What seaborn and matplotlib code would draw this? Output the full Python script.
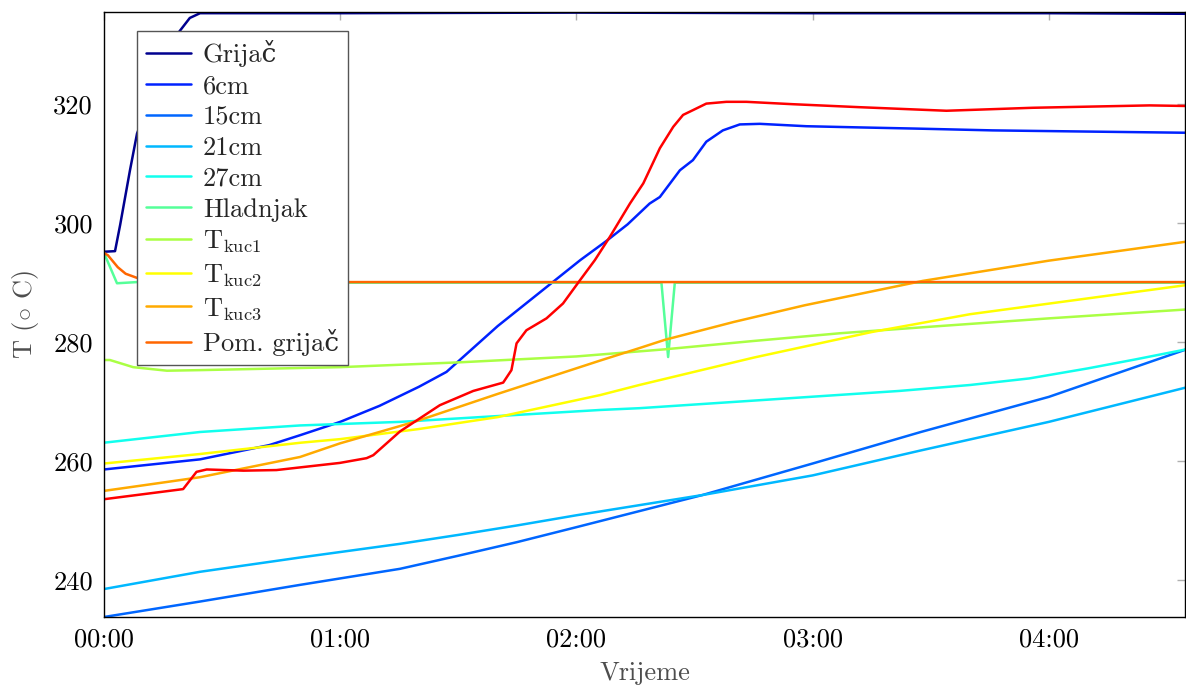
import numpy as np
import pandas as pd
import matplotlib
matplotlib.use('Agg')
import matplotlib.pyplot as plt
from matplotlib.ticker import FuncFormatter
import seaborn as sns

# ============================================================
# Podaci (vrijeme u minutama, temperatura u °C)
# ============================================================
t_grijac = [0, 2.8, 4.1, 6.6, 8.4, 13.7, 19.0, 21.8, 24.4, 60, 120, 180, 240, 275]
T_grijac = [295.2, 295.3, 299.7, 308.9, 315.1, 324.0, 332.1, 334.5, 335.3, 335.3, 335.4, 335.3, 335.3, 335.2]

t_6cm = [0, 24.4, 42, 50, 60, 70, 80, 87, 100, 114, 121, 127.6, 133, 138.6, 141.2, 146.3, 149.6,
         153, 157.2, 161.5, 166.6, 178.4, 191.9, 206.3, 225.7, 250, 275]
T_6cm = [258.6, 260.3, 262.7, 264.4, 266.6, 269.3, 272.5, 275.0, 282.7, 290.1, 293.8, 297.0, 299.8,
         303.3, 304.4, 308.9, 310.6, 313.7, 315.6, 316.6, 316.7, 316.3, 316.1, 315.9, 315.6, 315.4, 315.2]

t_15cm = [0, 24.4, 49.8, 75.2, 90, 105, 120, 152, 180, 207.5, 240, 275]
T_15cm = [233.8, 236.4, 239.2, 241.9, 244.1, 246.4, 248.9, 254.3, 259.6, 264.9, 270.8, 278.8]

t_21cm = [0, 24.4, 49.8, 75.2, 90, 105, 120, 152, 180, 207.5, 240, 275]
T_21cm = [238.5, 241.4, 243.8, 246.1, 247.6, 249.2, 250.9, 254.3, 257.6, 261.8, 266.6, 272.4]

t_27cm = [0, 24.4, 49.8, 75.2, 126, 136, 202, 220, 235, 250, 262, 275]
T_27cm = [263.1, 264.9, 266.0, 266.6, 268.6, 268.9, 271.8, 272.8, 273.9, 275.6, 277.1, 278.8]

t_hladnjak = [0, 3.3, 8.4, 60, 141.6, 143.3, 145.0, 275]
T_hladnjak = [295.0, 289.9, 290.1, 290.0, 290.0, 277.5, 290.0, 290.0]

t_kuc1 = [0, 1.5, 7.4, 16, 24.4, 60, 90, 120, 142.5, 165, 187, 210, 240, 275]
T_kuc1 = [277.0, 277.0, 275.8, 275.2, 275.3, 275.8, 276.6, 277.6, 278.8, 280.2, 281.5, 282.6, 284.0, 285.5]

t_kuc2 = [0, 24.4, 50, 60, 80, 100, 126, 136, 165, 195, 220, 247, 275]
T_kuc2 = [259.6, 261.2, 263.1, 263.7, 265.4, 267.4, 271.1, 272.8, 277.4, 281.7, 284.7, 287.1, 289.6]

t_kuc3 = [0, 16, 24.4, 49.8, 60, 75.2, 80.2, 100, 126, 136, 142.5, 160, 178, 208, 240, 275]
T_kuc3 = [255.0, 256.5, 257.3, 260.7, 263.0, 265.9, 266.9, 271.3, 276.9, 279.0, 280.4, 283.4, 286.2,
          290.3, 293.7, 296.9]

t_pom = [0, 1, 3.5, 5.5, 8.4, 15, 60, 275]
T_pom = [295.0, 294.6, 292.6, 291.5, 290.8, 290.3, 290.1, 290.1]

t_crvena = [0, 20.1, 23.5, 26.1, 35.4, 43.8, 59.9, 66.7, 68.4, 75.2, 85.3, 93.8, 101.4, 103.5,
            104.8, 107.3, 112.4, 116.6, 120.9, 124.7, 128.5, 133.6, 137, 141.2, 144.6, 147.1,
            149.6, 153, 158.1, 163.2, 175, 191.9, 214, 235.9, 265.6, 275]
T_crvena = [253.6, 255.3, 258.2, 258.6, 258.4, 258.5, 259.7, 260.5, 261.0, 265.0, 269.4, 271.8,
            273.2, 275.3, 279.8, 282.0, 284.0, 286.5, 290.4, 293.8, 297.7, 303.3, 306.7, 312.6,
            316.2, 318.2, 319.0, 320.1, 320.4, 320.4, 320.0, 319.5, 318.9, 319.4, 319.8, 319.7]

serije = ['Grijač', '6cm', '15cm', '21cm', '27cm', 'Hladnjak',
          'T$_{\\mathrm{kuc1}}$', 'T$_{\\mathrm{kuc2}}$', 'T$_{\\mathrm{kuc3}}$', 'Pom. grijač', 'Serija 11']
vremena = [t_grijac, t_6cm, t_15cm, t_21cm, t_27cm, t_hladnjak, t_kuc1, t_kuc2, t_kuc3, t_pom, t_crvena]
temperature = [T_grijac, T_6cm, T_15cm, T_21cm, T_27cm, T_hladnjak, T_kuc1, T_kuc2, T_kuc3, T_pom, T_crvena]
boje = ['#00008f', '#0022ff', '#0066ff', '#00b8ff', '#11ffee', '#55ff99',
        '#aaff44', '#ffff00', '#ffaa00', '#ff6600', '#ff0000']

df = pd.concat([pd.DataFrame({'t': t, 'T': T, 'serija': s})
                for s, t, T in zip(serije, vremena, temperature)], ignore_index=True)

# ============================================================
# Crtanje
# ============================================================
sns.set_theme(style='white')
plt.rcParams['font.family'] = ['cmr10', 'DejaVu Serif']
plt.rcParams['mathtext.fontset'] = 'cm'
plt.rcParams['axes.unicode_minus'] = False
plt.rcParams['axes.formatter.use_mathtext'] = True

fig = plt.figure(figsize=(11.86, 6.88), dpi=100)
ax = fig.add_axes([104 / 1186, 1 - 617 / 688, 1081 / 1186, 605 / 688])

sns.lineplot(data=df, x='t', y='T', hue='serija', hue_order=serije,
             palette=dict(zip(serije, boje)), estimator=None, sort=False,
             linewidth=1.8, legend=False, ax=ax)

ax.set_xlim(0, 274.6)
ax.set_ylim(233.8, 335.5)
ax.set_xticks([0, 60, 120, 180, 240])
ax.set_yticks([240, 260, 280, 300, 320])
ax.xaxis.set_major_formatter(FuncFormatter(lambda v, p: f'{int(v) // 60:02d}:{int(v) % 60:02d}'))
ax.yaxis.set_major_formatter(FuncFormatter(lambda v, p: f'{int(v)}'))
ax.tick_params(direction='in', length=6, width=1, color='#b0b0b0', labelsize=19,
               top=True, right=True, labelcolor='black', pad=8)

for sp in ax.spines.values():
    sp.set_color('black')
    sp.set_linewidth(1.0)

ax.set_xlabel('Vrijeme', fontsize=19, color='#4d4d4d', labelpad=7)
ax.set_ylabel('T ($\\circ$ C)', fontsize=19, color='#4d4d4d', labelpad=9)

leg = ax.legend(ax.lines[:10], serije[:10], loc='upper left',
                bbox_to_anchor=(0.0305, 0.9686), borderaxespad=0,
                fontsize=19, frameon=True, fancybox=False, framealpha=1,
                edgecolor='#555555', handlelength=1.7, handletextpad=0.45,
                labelspacing=0.27, borderpad=0.35)
leg.get_frame().set_linewidth(1.0)

fig.savefig('out.png', dpi=100)
